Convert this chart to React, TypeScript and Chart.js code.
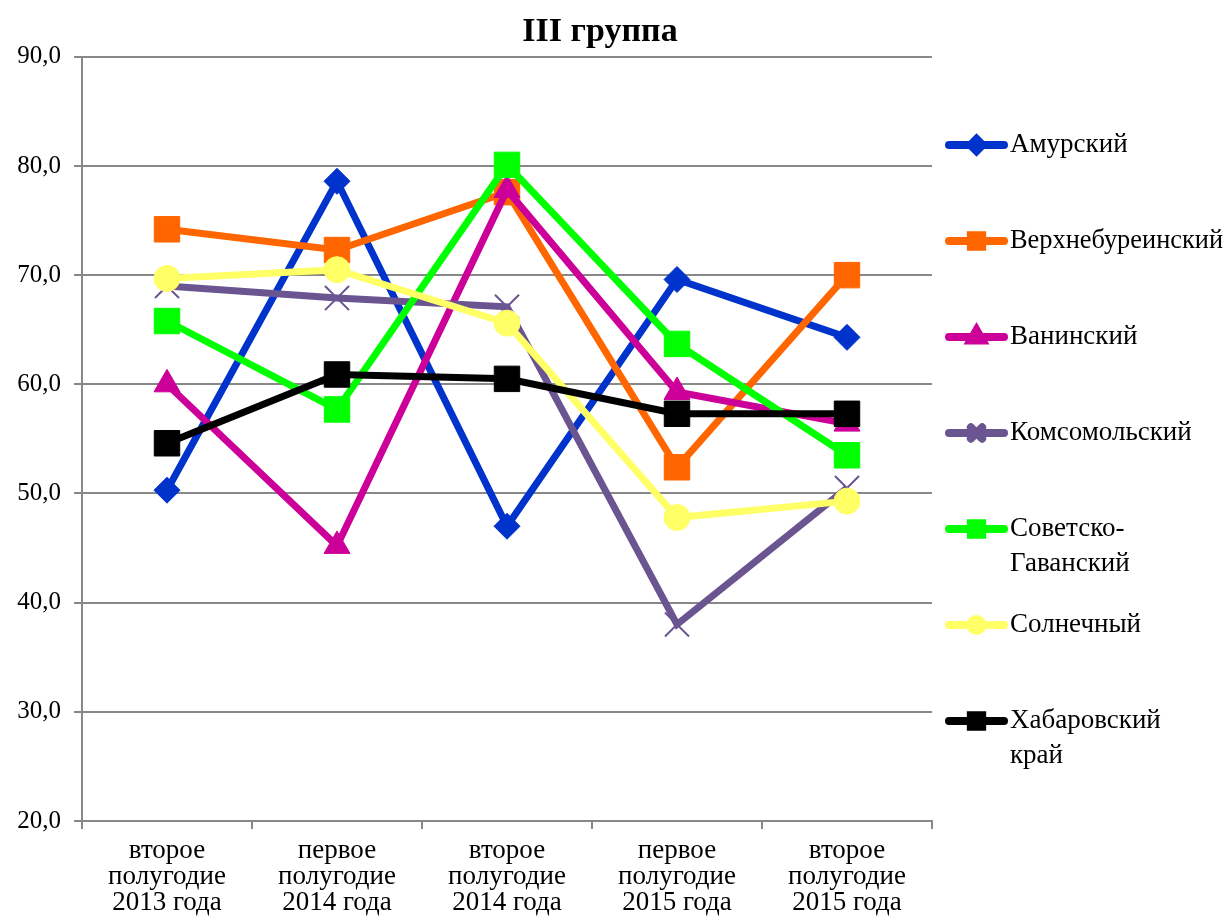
import React, { useEffect, useRef } from "react";
import { Chart, registerables } from "chart.js";
import { drawPoint } from "chart.js/helpers";

Chart.register(...registerables);

const chartTitle = "III группа";

const categories: string[][] = [
  ["второе", "полугодие", "2013 года"],
  ["первое", "полугодие", "2014 года"],
  ["второе", "полугодие", "2014 года"],
  ["первое", "полугодие", "2015 года"],
  ["второе", "полугодие", "2015 года"],
];

const seriesNames = [
  "Амурский",
  "Верхнебуреинский",
  "Ванинский",
  "Комсомольский",
  "Советско-Гаванский",
  "Солнечный",
  "Хабаровский край",
];

const amurskiy = [50.3, 78.6, 47.0, 69.6, 64.3];
const verkhnebureinskiy = [74.2, 72.3, 77.6, 52.4, 70.0];
const vaninskiy = [60.0, 45.2, 77.8, 59.3, 56.4];
const komsomolskiy = [69.0, 67.9, 67.1, 38.0, 50.5];
const sovetskoGavanskiy = [65.8, 57.7, 80.1, 63.7, 53.5];
const solnechnyy = [69.7, 70.5, 65.6, 47.8, 49.3];
const khabarovskiyKray = [54.6, 60.9, 60.5, 57.3, 57.3];

const seriesValues = [
  amurskiy,
  verkhnebureinskiy,
  vaninskiy,
  komsomolskiy,
  sovetskoGavanskiy,
  solnechnyy,
  khabarovskiyKray,
];

const yTicksMin = 20;
const yTicksMax = 90;
const yTicksStep = 10;

const colors = ["#0033CC", "#FF6600", "#CC0099", "#6B5591", "#00FF00", "#FFFF66", "#000000"];
const pointStyles = ["rectRot", "rect", "triangle", "crossRot", "rect", "circle", "rect"];
const pointRadii = [13, 18, 15, 17, 18, 13, 18];
const pointBorderWidths = [1, 1, 1, 2, 1, 1, 1];
const legendRadii = [6, 8, 7, 8, 8, 6, 8];

const FONT = "'Liberation Serif', 'Times New Roman', serif";

const legendPlugin = {
  id: "customLegend",
  afterDraw(chart: any) {
    const ctx = chart.ctx;
    const x0 = 949;
    const x1 = 1004;
    const textX = 1010;
    const top = 145;
    const step = 96;
    const maxW = chart.width - textX - 4;
    const wrapW = 190;
    ctx.save();
    chart.data.datasets.forEach((ds: any, i: number) => {
      const y = top + i * step;
      ctx.strokeStyle = ds.borderColor;
      ctx.lineWidth = 8;
      ctx.lineCap = "round";
      ctx.beginPath();
      ctx.moveTo(x0, y);
      ctx.lineTo(x1, y);
      ctx.stroke();
      ctx.fillStyle = ds.borderColor;
      drawPoint(
        ctx,
        {
          pointStyle: ds.pointStyle,
          radius: legendRadii[i],
          borderWidth: ds.pointBorderWidth,
          rotation: 0,
        } as any,
        (x0 + x1) / 2,
        y
      );
      ctx.font = `27px ${FONT}`;
      ctx.fillStyle = "#000";
      ctx.textAlign = "left";
      ctx.textBaseline = "middle";
      const label: string = ds.label;
      let lines = [label];
      if (ctx.measureText(label).width > wrapW) {
        const hy = label.indexOf("-");
        const sp = label.indexOf(" ");
        if (hy >= 0) lines = [label.slice(0, hy + 1), label.slice(hy + 1)];
        else if (sp >= 0) lines = [label.slice(0, sp), label.slice(sp + 1)];
      }
      lines.forEach((ln, k) => {
        const w = ctx.measureText(ln).width;
        const ty = y + k * 35;
        if (w > maxW) {
          ctx.save();
          ctx.translate(textX, ty);
          ctx.scale(maxW / w, 1);
          ctx.fillText(ln, 0, 0);
          ctx.restore();
        } else {
          ctx.fillText(ln, textX, ty);
        }
      });
    });
    ctx.restore();
  },
};

export default function App() {
  const ref = useRef<HTMLCanvasElement | null>(null);
  useEffect(() => {
    if (!ref.current) return;
    const n = seriesNames.length;
    const chart = new Chart(ref.current, {
      type: "line",
      data: {
        labels: categories,
        datasets: seriesNames.map((name, i) => ({
          label: name,
          data: seriesValues[i],
          borderColor: colors[i],
          backgroundColor: colors[i],
          borderWidth: 7,
          pointStyle: pointStyles[i] as any,
          pointRadius: pointRadii[i],
          pointHoverRadius: pointRadii[i],
          pointBorderWidth: pointBorderWidths[i],
          pointBorderColor: colors[i],
          pointBackgroundColor: colors[i],
          tension: 0,
          order: n - i,
        })),
      },
      options: {
        animation: false,
        responsive: false,
        maintainAspectRatio: false,
        layout: { padding: { left: 0, right: 27, top: 0, bottom: 0 } },
        plugins: {
          legend: { display: false },
          tooltip: { enabled: false },
          title: {
            display: true,
            text: chartTitle,
            color: "#000",
            font: { family: FONT, size: 34, weight: "bold" },
            padding: { top: 12, bottom: 4 },
          },
        },
        scales: {
          x: {
            type: "category",
            offset: true,
            grid: {
              display: true,
              drawOnChartArea: false,
              offset: true,
              tickLength: 8,
              color: "#888",
              lineWidth: 2,
            },
            border: { display: true, color: "#888", width: 2 },
            ticks: {
              color: "#000",
              font: { family: FONT, size: 27, lineHeight: 0.96 },
              padding: 9,
              maxRotation: 0,
              autoSkip: false,
            },
            afterFit: (s: any) => {
              s.height = 97;
            },
          },
          y: {
            type: "linear",
            min: yTicksMin,
            max: yTicksMax,
            ticks: {
              stepSize: yTicksStep,
              color: "#000",
              font: { family: FONT, size: 25 },
              padding: 13,
              callback: (v: any) => Number(v).toFixed(1).replace(".", ","),
            },
            grid: { color: "#888", lineWidth: 2, tickLength: 8 },
            border: { display: true, color: "#888", width: 2 },
            afterFit: (s: any) => {
              s.width = 82;
            },
          },
          legendSpace: {
            type: "linear",
            position: "right",
            display: true,
            ticks: { display: false },
            grid: { display: false },
            border: { display: false },
            afterFit: (s: any) => {
              s.width = 268;
            },
          },
        },
      },
      plugins: [legendPlugin],
    });
    return () => chart.destroy();
  }, []);
  return (
    <div style={{ position: "fixed", left: 0, top: 0, width: 1227, height: 918, background: "#fff" }}>
      <canvas ref={ref} width={1227} height={918} style={{ display: "block" }} />
    </div>
  );
}
